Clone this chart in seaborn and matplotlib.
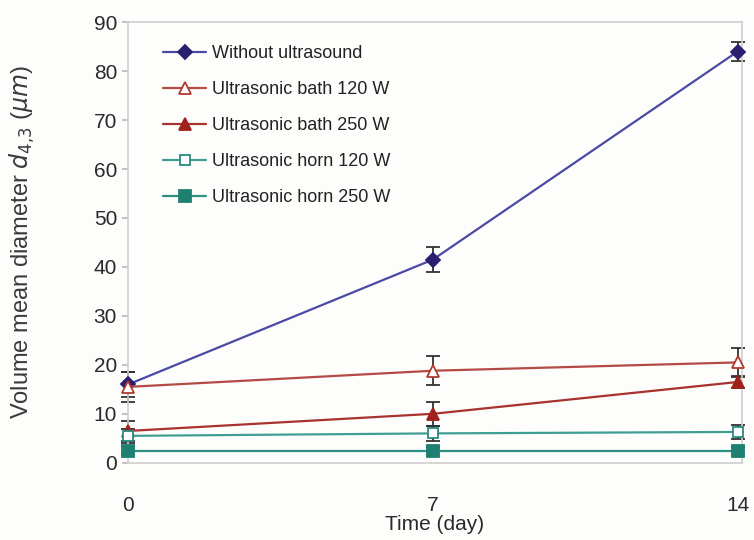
import matplotlib
matplotlib.use("Agg")
import matplotlib.pyplot as plt
import seaborn as sns
import pandas as pd

days = [0, 7, 14]
series_names = ["Without ultrasound", "Ultrasonic bath 120 W", "Ultrasonic bath 250 W",
                "Ultrasonic horn 120 W", "Ultrasonic horn 250 W"]
without_us = [16.0, 41.5, 84.0]
without_us_err = [2.5, 2.5, 2.0]
bath120 = [15.5, 18.8, 20.5]
bath120_err = [3.0, 3.0, 3.0]
bath250 = [6.5, 10.0, 16.5]
bath250_err = [2.0, 2.5, 1.2]
horn120 = [5.5, 6.0, 6.3]
horn120_err = [1.5, 1.5, 1.5]
horn250 = [2.5, 2.5, 2.5]
horn250_err = [1.0, 0.8, 0.8]
yticks = [0, 10, 20, 30, 40, 50, 60, 70, 80, 90]

sns.set_theme(style="white")
plt.rcParams["font.family"] = ["Liberation Sans", "DejaVu Sans"]
plt.rcParams["mathtext.fontset"] = "dejavusans"

values = [without_us, bath120, bath250, horn120, horn250]
errs = [without_us_err, bath120_err, bath250_err, horn120_err, horn250_err]
rows = []
for n, v, e in zip(series_names, values, errs):
    for d, y, ee in zip(days, v, e):
        rows.append({"Time": d, "Diameter": y, "err": ee, "Series": n})
df = pd.DataFrame(rows)

line_colors = ["#4A4AA6", "#B54A45", "#A8322D", "#3E9E94", "#2E8F84"]
mk_colors = ["#2A1E6E", "#B03A30", "#A0221C", "#2A8A7E", "#1F8072"]
markers = ["D", "^", "^", "s", "s"]
faces = ["#2A1E6E", "white", "#A0221C", "white", "#1F8072"]
msizes = [7, 8, 9, 7, 9]

fig = plt.figure(figsize=(7.54, 5.40), dpi=100, facecolor="#FDFDFB")
ax = fig.add_axes([0.170, 0.143, 0.814, 0.816])
ax.set_facecolor("#FDFDFB")

for i, n in enumerate(series_names):
    sub = df[df["Series"] == n]
    eb = ax.errorbar(sub["Time"], sub["Diameter"], yerr=sub["err"], fmt="none",
                     ecolor="#333333", elinewidth=1.3, capsize=5, capthick=1.3, zorder=2)
    for art in eb.get_children():
        art.set_clip_on(False)
    sns.lineplot(data=sub, x="Time", y="Diameter", ax=ax, color=line_colors[i],
                 linewidth=1.6, marker=markers[i], markersize=msizes[i],
                 markerfacecolor=faces[i], markeredgecolor=mk_colors[i],
                 markeredgewidth=1.3, label=n, zorder=3, clip_on=False)

ax.set_xlim(0, 14.1)
ax.set_ylim(0, 90)
ax.set_yticks(yticks)
ax.set_xticks(days)
ax.tick_params(axis="y", labelsize=15, length=4, color="#BBBBBB", left=True, pad=4, labelcolor="#2A2A2A")
ax.tick_params(axis="x", labelsize=15, length=0, pad=24, labelcolor="#2A2A2A")
for s in ax.spines.values():
    s.set_color("#CFCFCF")
    s.set_linewidth(1.2)
ax.set_xlabel("Time (day)", fontsize=15, color="#2A2A2A", va="top")
ax.xaxis.set_label_coords(0.5, -0.118)
ax.set_ylabel(r"Volume mean diameter $d_{4{,}3}$ ($\mu m$)", fontsize=17, color="#3A3A3A")
ax.yaxis.set_label_coords(-0.148, 0.5)

leg = ax.legend(loc="upper left", bbox_to_anchor=(0.03, 0.985), frameon=False,
                fontsize=13, handlelength=2.4, labelspacing=1.05, handletextpad=0.3)
for t in leg.get_texts():
    t.set_color("#222222")

fig.savefig("out.png", dpi=100, facecolor=fig.get_facecolor())
